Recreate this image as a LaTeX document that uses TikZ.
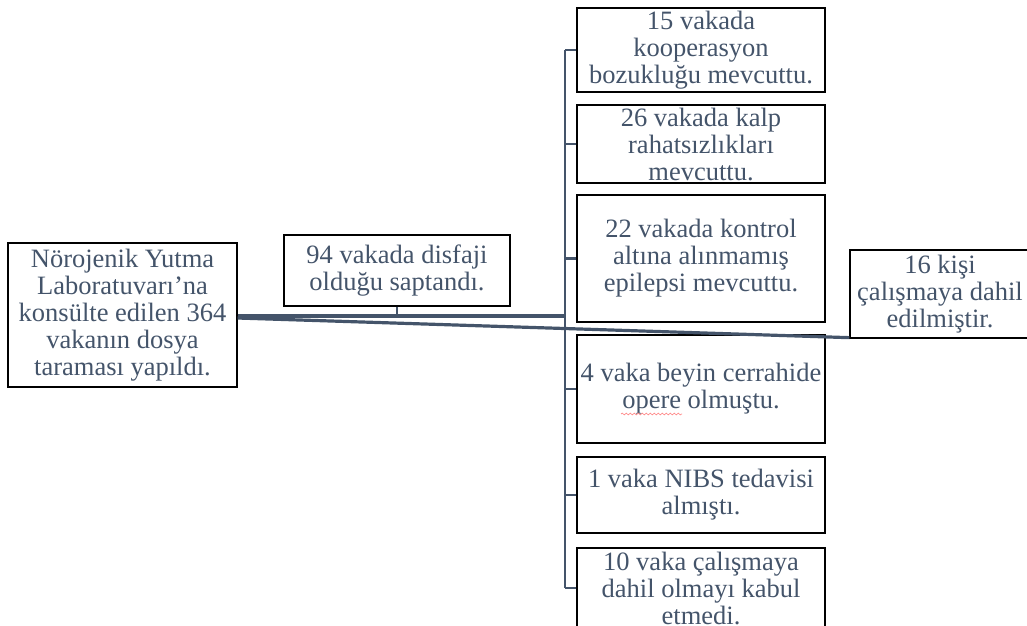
\documentclass[tikz,border=0pt]{standalone}
\usepackage{fontspec}
\setmainfont{Liberation Serif}
\usetikzlibrary{decorations.pathmorphing}
\definecolor{slate}{HTML}{44546A}
\tikzset{
  card/.style={draw=black, line width=1.3pt, inner sep=0pt, align=center,
    text=slate, font=\fontsize{26.5}{27}\selectfont},
  trunkline/.style={draw=slate, line width=2.8pt},
  mainline/.style={draw=slate, line width=3.2pt},
  twig/.style={draw=slate, line width=2.4pt},
}
\begin{document}
\begin{tikzpicture}[x=1pt,y=-1pt]
\useasboundingbox (0,0) rectangle (1027,625);

% source box and first finding
\node[card, minimum width=229pt, minimum height=144pt] (m) at (122.5,315)
  {Nörojenik Yutma\\Laboratuvarı’na\\konsülte edilen 364\\vakanın dosya\\taraması yapıldı.};
\node[card, minimum width=226pt, minimum height=71pt] (d) at (397,270.5)
  {94 vakada disfaji\\olduğu saptandı.};

% exclusion boxes along the trunk
\node[card, minimum width=248pt, minimum height=84pt] (b1) at (701,50)
  {15 vakada\\kooperasyon\\bozukluğu mevcuttu.};
\node[card, minimum width=248pt, minimum height=78pt] (b2) at (701,144)
  {26 vakada kalp\\rahatsızlıkları\\mevcuttu.};
\node[card, minimum width=248pt, minimum height=127pt] (b3) at (701,258.5)
  {22 vakada kontrol\\altına alınmamış\\epilepsi mevcuttu.};
\node[card, minimum width=248pt, minimum height=108pt] (b4) at (701,389)
  {4 vaka beyin cerrahide\\opere olmuştu.};
\node[card, minimum width=248pt, minimum height=76pt] (b5) at (701,495)
  {1 vaka NIBS tedavisi\\almıştı.};
\node[card, minimum width=248pt, minimum height=80pt] (b6) at (701,588)
  {10 vaka çalışmaya\\dahil olmayı kabul\\etmedi.};

% final count
\node[card, minimum width=180pt, minimum height=88pt] (s) at (940,294)
  {16 kişi\\çalışmaya dahil\\edilmiştir.};

% connectors
\coordinate (j) at (565,316);
\draw[mainline] ([yshift=-1pt]m.east) -- (j);
\draw[trunkline] (b1.west -| j) -- (b6.west -| j);
\foreach \b in {b1,b2,b3,b4,b5,b6}
  \draw[twig] (\b.west) -- (\b.west -| j);
\draw[twig] (d.south) -- (d.south |- j);
\draw[mainline] ([yshift=-3pt]m.east) -- ([yshift=1pt]s.south west);

% spell-check squiggle under a word
\draw[red!45, line width=0.7pt, decorate,
  decoration={snake, amplitude=0.9pt, segment length=4pt}] (621,414) -- (682,414);
\end{tikzpicture}
\end{document}
